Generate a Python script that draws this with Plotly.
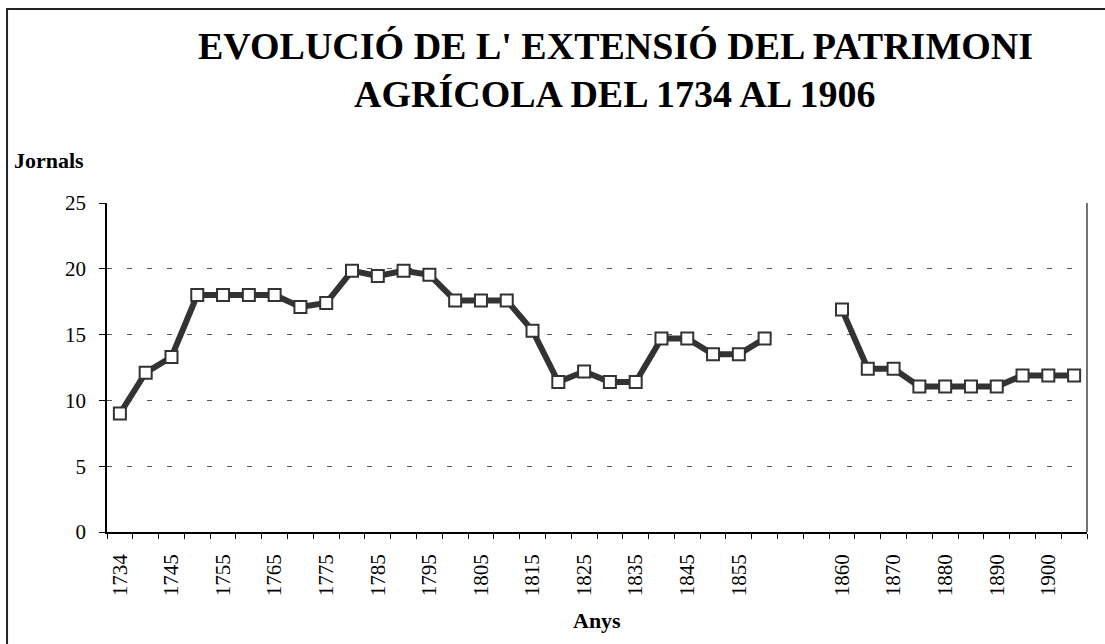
import plotly.graph_objects as go

# Jornals per any (categories a l'eix X, dues buides entre 1855 i 1860)
jornals = [9.0, 12.1, 13.3, 18.0, 18.0, 18.0, 18.0, 17.1, 17.4, 19.85,
           19.45, 19.85, 19.55, 17.6, 17.6, 17.6, 15.3, 11.4, 12.2, 11.4,
           11.4, 14.7, 14.7, 13.5, 13.5, 14.7, None, None, 16.9, 12.4,
           12.4, 11.05, 11.05, 11.05, 11.05, 11.9, 11.9, 11.9]
tick_labels = ['1734', '1745', '1755', '1765', '1775', '1785', '1795', '1805',
               '1815', '1825', '1835', '1845', '1855', '', '1860', '1870',
               '1880', '1890', '1900']
y_ticks = [0, 5, 10, 15, 20, 25]

x_idx = list(range(len(jornals)))
label_pos = x_idx[::2]
boundaries = [i - 0.5 for i in range(len(jornals) + 1)]

FONT = "'Liberation Serif', 'Times New Roman', serif"
fig = go.Figure()

fig.add_trace(go.Scatter(
    x=x_idx, y=jornals, mode='lines+markers', connectgaps=False,
    line=dict(color='#333333', width=6),
    marker=dict(symbol='square', size=12, color='white',
                line=dict(color='#333333', width=2)),
    showlegend=False))

fig.update_layout(
    width=1105, height=644,
    margin=dict(l=107, r=18, t=203, b=112),
    paper_bgcolor='white', plot_bgcolor='white',
    font=dict(family=FONT, size=21, color='black'),
    xaxis=dict(range=[-0.5, len(jornals) - 0.5], tickmode='array',
               tickvals=label_pos, ticktext=tick_labels, tickangle=-90,
               ticks='', showgrid=False, zeroline=False,
               showline=True, linecolor='black', linewidth=1.5,
               ticklabelstandoff=12, automargin=False,
               minor=dict(tickvals=boundaries, ticks='outside', ticklen=5,
                          tickcolor='black', tickwidth=1.2, showgrid=False)),
    yaxis=dict(range=[0, 25], tickvals=y_ticks, ticks='outside', ticklen=6,
               tickcolor='black', tickwidth=1.2, automargin=False,
               showline=True, linecolor='black', linewidth=1.5,
               showgrid=True, gridcolor='#555555', gridwidth=1,
               griddash='5px,15px', zeroline=False, ticklabelstandoff=9),
)

# vora dreta de l'àrea del gràfic i marc exterior
fig.add_shape(type='line', xref='paper', yref='paper', x0=1, x1=1, y0=0, y1=1,
              line=dict(color='#444444', width=1.5))
fig.add_shape(type='rect', xref='paper', yref='paper',
              x0=-0.102, x1=1.03, y0=-0.36, y1=1.5897,
              line=dict(color='#222222', width=2))

# títol i noms dels eixos
fig.add_annotation(text="<b>EVOLUCIÓ DE L' EXTENSIÓ DEL PATRIMONI</b>",
                   xref='paper', yref='paper', x=0.5184, y=1.4772,
                   xanchor='center', yanchor='middle', showarrow=False,
                   font=dict(family=FONT, size=38))
fig.add_annotation(text='<b>AGRÍCOLA DEL 1734 AL 1906</b>',
                   xref='paper', yref='paper', x=0.5184, y=1.3313,
                   xanchor='center', yanchor='middle', showarrow=False,
                   font=dict(family=FONT, size=38))
fig.add_annotation(text='<b>Jornals</b>', xref='paper', yref='paper',
                   x=-0.0969, y=1.1289, xanchor='left', yanchor='middle',
                   showarrow=False, font=dict(family=FONT, size=22))
fig.add_annotation(text='<b>Anys</b>', xref='paper', yref='paper',
                   x=0.5, y=-0.2693, xanchor='center', yanchor='middle',
                   showarrow=False, font=dict(family=FONT, size=22))

fig.write_html('out.html', config={'displayModeBar': False},
               post_script="document.body.style.margin='0';")
